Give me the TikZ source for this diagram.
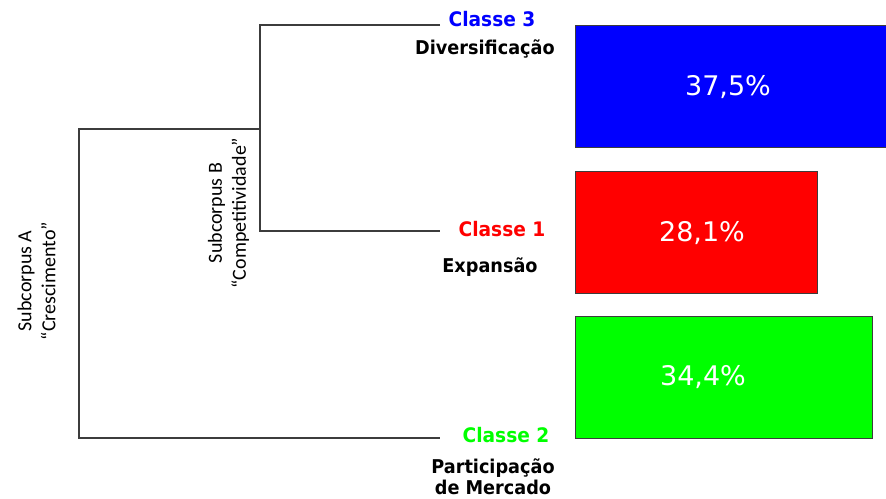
\documentclass[tikz,border=0pt]{standalone}
\usepackage{fontspec}
\setmainfont{DejaVu Sans}
\newfontfamily\labelfont[FakeStretch=0.93]{DejaVu Sans}
\newfontfamily\subfont{Carlito}
\usepackage{color}
\definecolor{classblue}{RGB}{0,0,255}
\definecolor{classred}{RGB}{255,0,0}
\definecolor{classgreen}{RGB}{0,255,0}
\definecolor{linegray}{RGB}{60,60,60}
\usepackage{tikz}
\newcommand{\heightbar}{122pt}
\newcommand{\widthbarthree}{313pt}
\newcommand{\widthbarone}{242pt}
\newcommand{\widthbartwo}{297pt}
\tikzset{
    common/.style={anchor=west, draw=linegray, rectangle, minimum height=\heightbar, inner sep=0pt},
    bar/.style={common, line width=1pt},
    pct/.style={text=white, font=\fontsize{27}{32}\selectfont},
    classe/.style={font=\labelfont\bfseries\fontsize{20}{24}\selectfont},
    desc/.style={font=\labelfont\bfseries\fontsize{19}{21}\selectfont, align=center},
    sub/.style={font=\subfont\fontsize{20}{24}\selectfont, rotate=90, align=center},
    branch/.style={draw=linegray, line width=1.3pt}
}

\begin{document}
\begin{tikzpicture}[x=1pt, y=-1pt]
    \useasboundingbox (0,0) rectangle (886,498);
    % bars
    \node[bar, fill=classblue, minimum width=\widthbarthree] (bar3) at (575,86) {};
    \node[bar, fill=classred, minimum width=\widthbarone] (bar1) at (575,232) {};
    \node[bar, fill=classgreen, minimum width=\widthbartwo] (bar2) at (575,377.5) {};
    \node[pct] (pct3) at (728,87) {37,5\%};
    \node[pct] (pct1) at (702,233) {28,1\%};
    \node[pct] (pct2) at (703,377) {34,4\%};
    % classes
    \node[classe, text=classblue] (classe3) at (492,19) {Classe 3};
    \node[desc] (desc3) at (485,49) {Diversificação};
    \node[classe, text=classred] (classe1) at (502,229) {Classe 1};
    \node[desc] (desc1) at (490,267) {Expansão};
    \node[classe, text=classgreen] (classe2) at (506,435) {Classe 2};
    \node[desc] (desc2) at (493,477) {Participação\\de Mercado};
    % dendrogram
    \coordinate (leaf3) at (440,25);
    \coordinate (leaf1) at (440,231);
    \coordinate (leaf2) at (440,438);
    \coordinate (joinB) at (260,129);
    \coordinate (joinA) at (79,129);
    \draw[branch] (leaf3) -| (joinB) |- (leaf1);
    \draw[branch] (joinB) -- (joinA) |- (leaf2);
    \node[sub] (subA) at (36.5,281) {Subcorpus A\\“Crescimento”};
    \node[sub] (subB) at (228.5,213) {Subcorpus B\\“Competitividade”};
\end{tikzpicture}
\end{document}
